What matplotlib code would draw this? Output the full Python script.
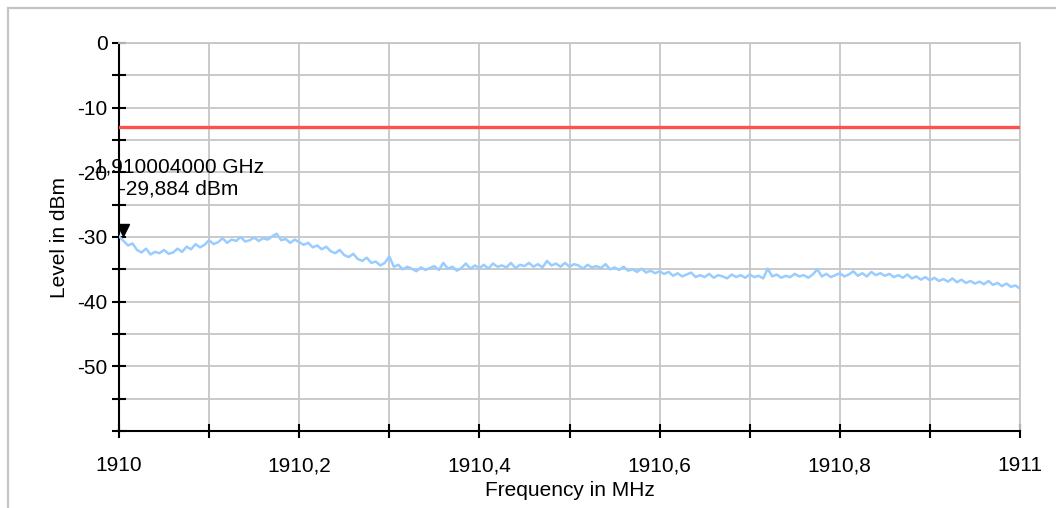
import numpy as np
import matplotlib.pyplot as plt
from matplotlib.patches import Rectangle
from matplotlib.transforms import ScaledTranslation
from matplotlib.ticker import FixedLocator, FuncFormatter

plt.rcParams['font.family'] = ['Liberation Sans', 'DejaVu Sans']

# trace: frequency in MHz (1910 ... 1911, step 0.005) and level in dBm
freq_start = 1910.0
freq_step = 0.005
level = [
    -29.9, -30.6, -31.3, -31.0, -32.0, -32.4, -31.8, -32.7, -32.3, -32.5,
    -32.0, -32.6, -32.4, -31.8, -32.3, -31.5, -31.9, -31.1, -31.6, -31.2,
    -30.5, -31.1, -30.8, -30.2, -30.9, -30.4, -30.6, -30.0, -30.7, -30.5,
    -30.1, -30.6, -30.2, -30.4, -29.9, -29.5, -30.5, -30.3, -30.9, -30.4,
    -30.8, -31.2, -30.9, -31.6, -31.3, -31.9, -31.5, -32.2, -32.5, -32.0,
    -32.8, -33.1, -32.6, -33.4, -33.7, -33.2, -34.0, -33.8, -34.4, -34.0,
    -33.0, -34.6, -34.3, -35.0, -34.6, -34.9, -35.3, -34.7, -35.1, -34.8,
    -34.5, -35.1, -34.0, -34.9, -34.6, -35.2, -34.8, -34.1, -34.9, -34.4,
    -34.8, -34.3, -34.9, -34.1, -34.6, -34.4, -34.7, -34.0, -34.8, -34.3,
    -34.5, -34.0, -34.6, -34.2, -34.7, -33.7, -34.4, -34.1, -34.6, -34.0,
    -34.6, -34.2, -34.4, -34.9, -34.3, -34.7, -34.5, -34.8, -34.2, -35.0,
    -34.7, -35.1, -34.6, -35.2, -35.0, -35.4, -34.9, -35.5, -35.2, -35.6,
    -35.3, -35.7, -35.4, -36.0, -35.6, -36.1, -35.8, -35.5, -36.2, -35.9,
    -36.2, -35.7, -36.3, -35.9, -36.1, -36.4, -35.8, -36.2, -35.9, -36.3,
    -35.8, -36.2, -36.0, -36.4, -34.9, -36.1, -35.8, -36.3, -36.0, -36.2,
    -35.7, -36.1, -35.9, -36.3, -35.8, -35.0, -36.1, -35.7, -36.2, -35.9,
    -35.6, -36.1, -35.8, -35.3, -36.0, -35.6, -36.1, -35.4, -35.9, -35.6,
    -36.0, -35.7, -36.2, -35.9, -36.3, -35.8, -36.4, -36.1, -36.6, -36.2,
    -36.7, -36.3, -36.8, -36.5, -36.9, -36.4, -37.0, -36.6, -37.1, -36.8,
    -37.2, -36.9, -37.3, -36.8, -37.4, -37.1, -37.6, -37.2, -37.7, -37.5,
    -38.0,
]
freq = freq_start + freq_step * np.arange(len(level))

limit_level = -13.0
marker_freq = 1910.004
marker_level = -29.884
marker_text = "1,910004000 GHz\n-29,884 dBm"

x_ticks = [1910.0 + 0.1 * i for i in range(11)]
y_ticks = [0, -5, -10, -15, -20, -25, -30, -35, -40, -45, -50, -55, -60]


def main():
    fig = plt.figure(figsize=(10.56, 5.08), dpi=100)
    ax = fig.add_axes([119 / 1056, 1 - 431 / 508, 901 / 1056, 388 / 508])

    # grey frame around the whole chart (partly outside the picture)
    fig.patches.append(Rectangle((8 / 1056, -0.1), 1.2, 1 - 8 / 508 + 0.1,
                                 transform=fig.transFigure, fill=False,
                                 edgecolor='#c4c4c4', lw=1.6))

    ax.plot(freq, level, color='#99ccff', lw=1.8, zorder=3)
    ax.axhline(limit_level, color='#ff5050', lw=2.4, zorder=4)

    shift = ScaledTranslation(0, 6 / 100, fig.dpi_scale_trans)
    ax.plot([marker_freq], [marker_level], marker='v', ms=9, color='black',
            linestyle='none', zorder=5, transform=ax.transData + shift)
    ax.annotate(marker_text, xy=(marker_freq, marker_level), xytext=(56, 58),
                textcoords='offset pixels', ha='center', va='center',
                fontsize=15, linespacing=1.2, zorder=6)

    ax.set_xlim(1910, 1911)
    ax.set_ylim(-60, 0)
    ax.xaxis.set_major_locator(FixedLocator(x_ticks))
    ax.yaxis.set_major_locator(FixedLocator(y_ticks))

    def fmt_x(v, pos):
        i = int(round((v - 1910) * 10))
        if i % 2:
            return ''
        s = f"{v:.1f}".rstrip('0').rstrip('.')
        return s.replace('.', ',')

    def fmt_y(v, pos):
        v = int(round(v))
        if v % 10 or v == -60:
            return ''
        return str(v)

    ax.xaxis.set_major_formatter(FuncFormatter(fmt_x))
    ax.yaxis.set_major_formatter(FuncFormatter(fmt_y))

    ax.grid(True, color='#c6c6c6', lw=1.3, zorder=0)
    ax.set_axisbelow(True)
    for side in ('top', 'right'):
        ax.spines[side].set_color('#c6c6c6')
        ax.spines[side].set_linewidth(1.3)
    for side in ('left', 'bottom'):
        ax.spines[side].set_color('black')
        ax.spines[side].set_linewidth(1.5)
    ax.tick_params(axis='both', direction='inout', length=10.5, width=1.5,
                   color='black', labelsize=15)
    ax.tick_params(axis='x', pad=13)
    ax.tick_params(axis='y', pad=3)

    ax.set_xlabel('Frequency in MHz', fontsize=15)
    ax.set_ylabel('Level in dBm', fontsize=15)
    ax.xaxis.set_label_coords(0.5, -0.13)
    ax.yaxis.set_label_coords(-0.055, 0.5)

    plt.savefig('out.png', dpi=100)
    plt.close()


if __name__ == "__main__":
    main()
